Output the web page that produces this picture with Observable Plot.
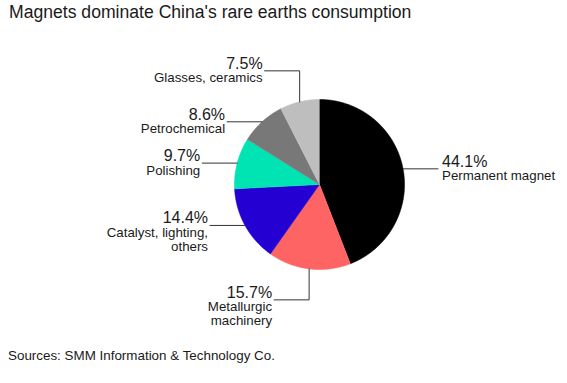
<!DOCTYPE html>
<html><head><meta charset="utf-8">
<script src="https://cdn.jsdelivr.net/npm/d3@7"></script>
<script src="https://cdn.jsdelivr.net/npm/@observablehq/plot@0.6"></script>
<style>
body{margin:0;background:#fff;font-family:"Liberation Sans",Arial,sans-serif;color:#1a1a1a}
#title{font-size:17.6px;line-height:20px;padding:2px 0 8px 9px;height:20px;white-space:nowrap}
#caption{font-size:13.4px;line-height:16px;padding-left:8px;white-space:nowrap}
#chart svg{display:block}
</style></head><body>
<div id="title">Magnets dominate China's rare earths consumption</div>
<div id="chart"></div>
<div id="caption">Sources: SMM Information &amp; Technology Co.</div>
<script>
const categories = ["Permanent magnet","Metallurgic machinery","Catalyst, lighting, others","Polishing","Petrochemical","Glasses, ceramics"];
const values = [44.1, 15.7, 14.4, 9.7, 8.6, 7.5];
const labelLines = ["Permanent magnet","Metallurgic\nmachinery","Catalyst, lighting,\nothers","Polishing","Petrochemical","Glasses, ceramics"];
const colors = ["#000000","#ff6464","#2500d2","#00e3b2","#787878","#bebebe"];
const leaderKinds = ["right","down","left","left","left","up"];

const W = 567, H = 318, R = 85, CX = 319, CY = 154;
const arcs = d3.pie().sort(null).value(d => d)(values);

const slicePts = [];
arcs.forEach((a, i) => {
  slicePts.push({cat: categories[i], x: 0, y: 0});
  const n = Math.max(2, Math.ceil((a.endAngle - a.startAngle) / (Math.PI / 360)));
  for (let k = 0; k <= n; k++) {
    const t = a.startAngle + (a.endAngle - a.startAngle) * k / n;
    slicePts.push({cat: categories[i], x: Math.sin(t), y: Math.cos(t)});
  }
});

const leaderPts = [], labels = [];
const L = 35 / R, V = 31 / R;
arcs.forEach((a, i) => {
  const m = (a.startAngle + a.endAngle) / 2, x0 = Math.sin(m), y0 = Math.cos(m);
  const pts = [[x0, y0]];
  let ex, ey, anchor;
  const kind = leaderKinds[i];
  if (kind === "right") { ex = x0 + L; ey = y0; anchor = "start"; }
  else if (kind === "left") { ex = x0 - L; ey = y0; anchor = "end"; }
  else if (kind === "up") { pts.push([x0, y0 + V]); ex = x0 - L; ey = y0 + V; anchor = "end"; }
  else { pts.push([x0, y0 - V]); ex = x0 - L; ey = y0 - V; anchor = "end"; }
  pts.push([ex, ey]);
  pts.forEach(p => leaderPts.push({cat: categories[i], x: p[0], y: p[1]}));
  labels.push({x: ex, y: ey, pct: values[i].toFixed(1) + "%", name: labelLines[i], anchor});
});

const right = labels.filter(d => d.anchor === "start");
const left = labels.filter(d => d.anchor === "end");
const pctStyle = {fontSize: 16, fontFamily: "Liberation Sans, Arial, sans-serif", fill: "#1a1a1a", lineAnchor: "bottom", dy: -2};
const nameStyle = {fontSize: 13.3, fontFamily: "Liberation Sans, Arial, sans-serif", fill: "#1a1a1a", lineAnchor: "top", lineHeight: 1.05, dy: 1.6};

const chart = Plot.plot({
  width: W, height: H, margin: 0,
  x: {domain: [-CX / R, (W - CX) / R], axis: null},
  y: {domain: [-(H - CY) / R, CY / R], axis: null},
  color: {domain: categories, range: colors},
  marks: [
    Plot.line(slicePts, {x: "x", y: "y", z: "cat", fill: "cat", stroke: "cat", strokeWidth: 0.6, curve: "linear"}),
    Plot.line(leaderPts, {x: "x", y: "y", z: "cat", stroke: "#333", strokeWidth: 1, curve: "linear"}),
    Plot.text(right, {x: "x", y: "y", text: "pct", textAnchor: "start", dx: 4, ...pctStyle}),
    Plot.text(right, {x: "x", y: "y", text: "name", textAnchor: "start", dx: 4, ...nameStyle}),
    Plot.text(left, {x: "x", y: "y", text: "pct", textAnchor: "end", dx: -2, ...pctStyle}),
    Plot.text(left, {x: "x", y: "y", text: "name", textAnchor: "end", dx: -2, ...nameStyle})
  ]
});
document.getElementById("chart").append(chart);
</script>
</body></html>
